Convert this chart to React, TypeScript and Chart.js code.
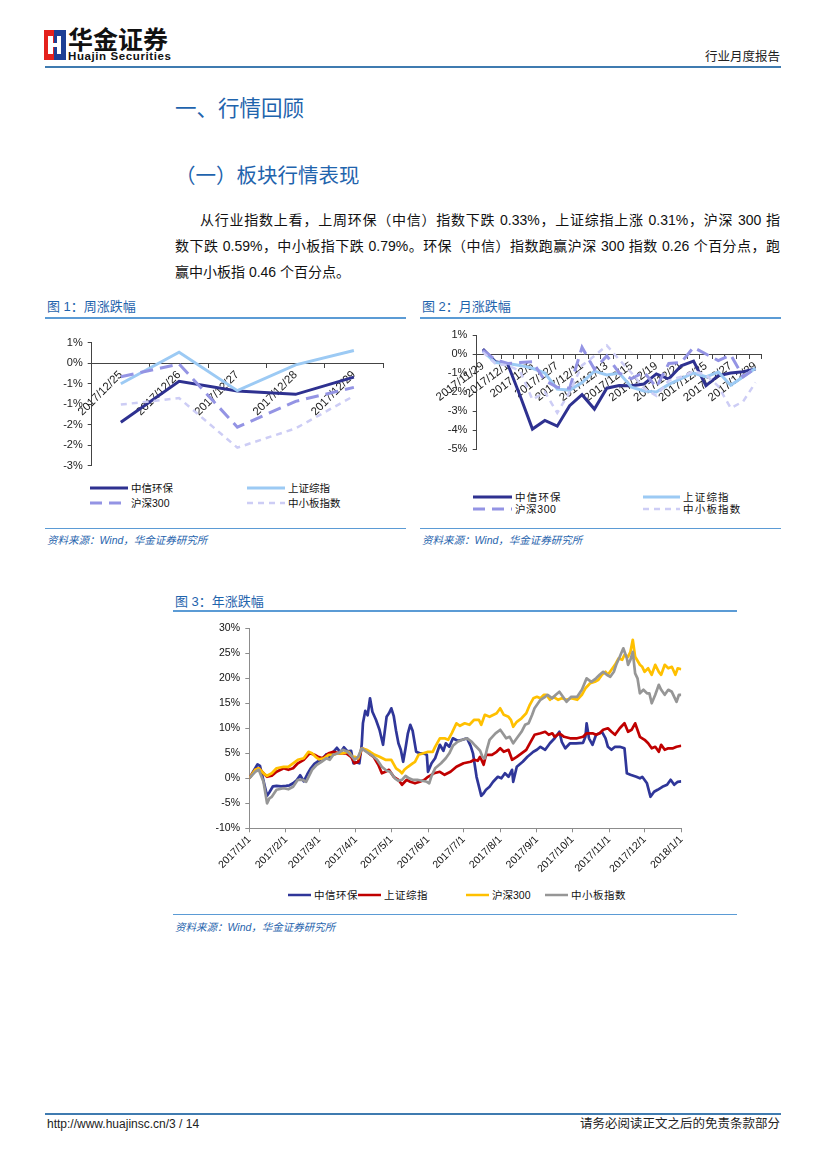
import React, { useEffect, useRef } from "react";
import { Chart, registerables } from "chart.js";

Chart.register(...registerables);

const LAT = '"Liberation Sans", Arial, "Noto Sans CJK SC", sans-serif';
const FONT = '"Liberation Sans", "Noto Sans CJK SC", sans-serif';
const BLUE_TXT = "#1f64ad";
const BLUE_LINE = "#5b9bd5";

// ---------- Figure 1: weekly ----------
const weekDates = ["2017/12/25", "2017/12/26", "2017/12/27", "2017/12/28", "2017/12/29"];
const weekHuanbao = [-1.44, -0.44, -0.68, -0.76, -0.34];
const weekShangzheng = [-0.5, 0.27, -0.67, -0.04, 0.31];
const weekHs300 = [-0.33, -0.02, -1.56, -0.93, -0.59];
const weekZxb = [-1.01, -0.85, -2.06, -1.59, -0.8];

// ---------- Figure 2: monthly ----------
const monthDates = [
  "2017/11/29", "2017/11/30", "2017/12/1", "2017/12/4", "2017/12/5", "2017/12/6", "2017/12/7", "2017/12/8",
  "2017/12/11", "2017/12/12", "2017/12/13", "2017/12/14", "2017/12/15", "2017/12/18", "2017/12/19", "2017/12/20",
  "2017/12/21", "2017/12/22", "2017/12/25", "2017/12/26", "2017/12/27", "2017/12/28", "2017/12/29",
];
const monthHuanbao = [0.26, -0.4, -0.53, -2.2, -3.95, -3.5, -3.8, -2.72, -2.14, -2.9, -1.8, -1.66, -1.67, -1.58, -1.05, -1.32, -0.62, -0.37, -1.67, -1.14, -1.0, -0.93, -0.79];
const monthShangzheng = [0.15, -0.45, -0.5, -0.6, -0.75, -1.0, -1.85, -1.9, -1.5, -0.9, -1.1, -1.0, -1.75, -1.95, -2.0, -1.6, -1.3, -1.0, -1.2, -0.95, -1.65, -1.2, -0.75];
const monthHs300 = [0.2, -0.3, -0.5, -0.45, -0.4, -1.4, -1.75, -1.8, 0.35, -0.8, -0.1, -1.0, -1.3, -0.95, -1.75, -0.5, -0.45, 0.35, 0.0, -0.35, -0.05, -1.2, -0.75];
const monthZxb = [0.1, -0.5, -0.6, -0.9, -2.4, -2.0, -3.1, -2.0, -0.6, -0.1, 0.45, -0.3, -1.0, -1.8, -2.2, -1.4, -1.2, -0.9, -1.1, -1.7, -2.85, -2.5, -1.5];

// ---------- Figure 3: yearly (x = day of 2017) ----------
const yearTickDays = [0, 31, 59, 90, 120, 151, 181, 212, 243, 273, 304, 334, 365];
const yearTickLabels = [
  "2017/1/1", "2017/2/1", "2017/3/1", "2017/4/1", "2017/5/1", "2017/6/1", "2017/7/1",
  "2017/8/1", "2017/9/1", "2017/10/1", "2017/11/1", "2017/12/1", "2018/1/1",
];

const huanbaoDays = [0, 3, 7, 9, 12, 15, 17, 20, 23, 27, 31, 34, 37, 40, 43, 46, 49, 52, 55, 58, 62, 65, 68, 71, 74, 77, 80, 83, 86, 88, 90, 93, 95, 96, 98, 100, 102, 104, 107, 110, 113, 116, 118, 120, 122, 124, 126, 128, 130, 132, 134, 136, 138, 141, 144, 147, 150, 151, 154, 157, 161, 164, 166, 169, 172, 176, 180, 184, 187, 189, 192, 196, 198, 200, 203, 206, 210, 213, 216, 219, 222, 223, 226, 231, 235, 240, 243, 246, 250, 254, 258, 262, 264, 267, 271, 276, 282, 284, 285, 287, 290, 293, 296, 298, 301, 303, 306, 309, 313, 317, 319, 322, 327, 330, 332, 336, 339, 342, 345, 349, 353, 356, 359, 362, 365];
const huanbaoPct = [0, 1.2, 2.8, 2.5, -0.5, -3.5, -2.8, -1.6, -1.5, -1.6, -1.5, -1.4, -1.0, -0.4, 0.6, -0.6, 0.8, 2.0, 2.9, 3.4, 4.0, 4.8, 4.2, 5.3, 6.1, 5.2, 6.2, 5.4, 5.5, 3.0, 3.2, 3.0, 6.8, 11.0, 13.5, 12.6, 16.0, 13.3, 11.7, 9.7, 6.7, 12.3, 13.0, 14.0, 12.5, 9.5, 7.0, 5.7, 3.3, 6.0, 9.0, 10.7, 9.5, 5.3, 5.0, 5.0, 4.7, 1.3, 3.0, 4.0, 6.7, 5.5, 7.0, 6.3, 8.0, 7.5, 7.7, 8.0, 6.5, 5.0, 0.3, -3.5, -3.0, -2.3, -1.7, -0.7, 0.3, 0.0, 1.0, 0.3, 1.7, -0.7, 2.3, 3.3, 4.3, 5.3, 5.7, 6.3, 5.7, 7.0, 8.0, 9.3, 7.3, 6.0, 7.0, 7.0, 7.1, 8.3, 11.0, 8.0, 6.7, 8.7, 9.0, 9.3, 8.0, 6.3, 5.7, 6.3, 6.3, 6.0, 1.0, 0.7, 0.3, 0.0, 0.3, -1.0, -3.7, -2.7, -2.3, -1.7, -1.3, -0.3, -1.3, -0.7, -0.6];

const shangzhengDays = [0, 5, 8, 12, 15, 19, 23, 29, 33, 37, 41, 46, 51, 55, 58, 62, 67, 71, 76, 82, 86, 89, 92, 95, 98, 101, 105, 109, 112, 115, 118, 122, 126, 129, 133, 136, 140, 144, 148, 151, 156, 161, 165, 170, 175, 181, 187, 190, 193, 195, 198, 200, 205, 209, 212, 215, 219, 222, 226, 230, 234, 237, 241, 246, 250, 253, 256, 258, 262, 266, 271, 277, 282, 285, 290, 293, 296, 299, 303, 306, 309, 313, 317, 320, 323, 326, 330, 334, 337, 340, 343, 346, 348, 351, 354, 358, 361, 365];
const shangzhengPct = [0, 1.7, 2.0, 1.0, 0.3, 0.5, 1.3, 2.0, 1.7, 2.0, 3.0, 3.7, 5.0, 4.7, 4.3, 4.0, 5.0, 5.3, 5.0, 5.0, 4.3, 3.0, 3.3, 6.0, 5.7, 5.0, 4.3, 2.7, 1.0, 1.3, 1.7, 0.3, -0.3, -1.3, -0.3, -0.7, -1.0, -0.7, -0.3, 0.3, 1.0, 1.3, 0.7, 1.3, 2.3, 3.0, 3.3, 3.7, 3.5, 4.3, 2.7, 4.7, 4.7, 5.3, 6.0, 5.3, 5.7, 3.7, 4.3, 5.0, 5.7, 7.0, 8.7, 9.0, 9.3, 8.7, 9.0, 8.3, 9.0, 8.3, 8.0, 8.0, 8.3, 9.0, 9.0, 8.7, 9.0, 9.7, 10.0, 9.3, 8.7, 10.0, 11.0, 9.3, 9.7, 11.0, 8.3, 7.7, 7.0, 6.0, 6.3, 5.3, 6.7, 5.7, 6.0, 6.0, 6.3, 6.5];

const hs300Days = [0, 5, 8, 12, 15, 19, 23, 29, 33, 37, 41, 46, 50, 53, 56, 59, 63, 67, 71, 75, 79, 84, 87, 89, 92, 95, 99, 102, 106, 110, 115, 120, 124, 127, 129, 131, 134, 138, 140, 143, 147, 151, 155, 157, 161, 165, 168, 171, 175, 178, 182, 186, 190, 194, 196, 199, 203, 209, 212, 215, 219, 221, 223, 226, 230, 234, 237, 240, 243, 246, 249, 251, 254, 257, 261, 264, 268, 272, 277, 281, 284, 288, 292, 295, 298, 301, 303, 306, 309, 312, 315, 317, 320, 322, 324, 326, 330, 332, 334, 337, 340, 343, 346, 348, 351, 354, 357, 360, 362, 365];
const hs300Pct = [0, 1.7, 2.0, 1.0, 0.5, 1.0, 2.0, 2.3, 2.3, 3.0, 3.7, 4.0, 5.3, 5.0, 4.3, 3.8, 4.0, 4.7, 4.7, 5.0, 5.0, 5.3, 4.3, 4.3, 4.0, 6.0, 5.7, 5.3, 4.7, 4.3, 3.7, 3.7, 2.0, 1.5, 1.0, 1.7, 2.3, 3.0, 3.3, 4.7, 5.0, 5.3, 5.3, 6.3, 8.0, 8.0, 7.7, 9.0, 11.0, 10.5, 11.0, 10.7, 11.7, 11.7, 10.7, 12.7, 12.3, 13.0, 14.0, 12.7, 12.3, 11.7, 10.3, 11.3, 12.0, 13.0, 14.7, 16.0, 16.3, 16.0, 16.7, 16.7, 15.7, 16.3, 15.7, 16.0, 15.7, 16.0, 15.7, 16.7, 18.0, 19.0, 19.3, 19.7, 20.7, 21.3, 20.7, 21.7, 22.7, 24.0, 23.7, 24.7, 24.3, 25.3, 27.7, 24.3, 22.7, 22.3, 21.3, 22.0, 20.7, 22.7, 21.3, 20.7, 22.7, 22.0, 22.3, 20.7, 22.0, 21.8];

const zxbDays = [0, 5, 8, 12, 15, 17, 19, 23, 29, 33, 37, 41, 45, 48, 53, 57, 61, 65, 68, 71, 75, 79, 83, 87, 89, 92, 95, 99, 103, 108, 112, 116, 119, 123, 126, 129, 132, 135, 138, 142, 146, 150, 152, 154, 157, 162, 166, 169, 172, 176, 180, 184, 188, 191, 195, 197, 199, 201, 203, 208, 212, 215, 217, 220, 223, 226, 230, 233, 236, 239, 241, 246, 250, 252, 256, 259, 262, 265, 268, 272, 277, 281, 285, 289, 293, 296, 299, 302, 305, 308, 310, 313, 316, 319, 320, 322, 324, 326, 328, 330, 333, 336, 338, 340, 343, 346, 348, 351, 354, 357, 361, 363, 365];
const zxbPct = [0, 1.3, 1.7, -0.7, -5.0, -4.0, -3.7, -2.3, -2.0, -2.2, -1.7, -0.3, -0.3, -0.7, 1.7, 2.7, 3.3, 4.0, 3.7, 4.7, 5.0, 5.7, 5.3, 4.3, 3.7, 4.3, 6.0, 5.3, 4.7, 3.7, 2.3, 1.5, 1.3, 0.0, -0.5, -0.3, 0.5, 0.0, -0.3, -0.3, -0.5, -0.7, -1.0, 0.5, 2.0, 3.0, 4.0, 5.0, 6.5, 7.3, 7.7, 8.0, 7.3, 6.5, 5.5, 4.3, 4.0, 6.0, 7.7, 9.0, 9.7, 8.7, 8.0, 8.3, 7.0, 8.0, 9.3, 10.7, 11.0, 12.7, 14.0, 15.7, 16.3, 16.7, 16.0, 16.7, 17.3, 16.3, 15.3, 16.3, 16.3, 17.7, 20.0, 19.3, 20.0, 20.7, 21.3, 20.7, 20.3, 21.3, 22.7, 24.3, 26.0, 24.0, 22.7, 23.7, 25.3, 21.0, 20.0, 17.0, 17.7, 17.0, 17.0, 15.0, 16.7, 18.7, 17.7, 16.7, 17.7, 17.3, 15.3, 16.7, 16.7];

// ---------- styling ----------
const NAVY = "#2e3190";
const SKY = "#9ccaf4";
const LAV = "#9494e4";
const LAV2 = "#cdcdf5";

const pctRound = (v: number) => {
  const r = Math.sign(v) * Math.round(Math.abs(v) + 1e-9);
  return (r === 0 ? 0 : r) + "%";
};

function smallChartConfig(opts: any) {
  const { labels, series, yMin, yMax, step, yWidth, padding, rotation, labelFn, yPad, xFont } = opts;
  return {
    type: "line",
    data: {
      labels,
      datasets: series.map((s: any, i: number) => ({
        label: s.label,
        data: s.data,
        borderColor: s.color,
        borderWidth: s.width,
        borderDash: s.dash,
        pointRadius: 0,
        tension: 0,
        fill: false,
        order: series.length - i,
      })),
    },
    options: {
      responsive: false,
      animation: false,
      layout: { padding },
      plugins: { legend: { display: false }, tooltip: { enabled: false } },
      scales: {
        x: {
          type: "category",
          position: { y: 0 },
          offset: true,
          grid: { offset: true, drawOnChartArea: false, drawTicks: true, tickLength: 4, color: "#444" },
          border: { color: "#444", width: 1 },
          ticks: {
            autoSkip: false,
            minRotation: rotation,
            maxRotation: rotation,
            padding: 1,
            color: "#1a1a1a",
            font: { family: LAT, size: xFont },
            callback: labelFn,
          },
        },
        y: {
          min: yMin,
          max: yMax,
          afterFit: (s: any) => {
            s.width = yWidth;
          },
          grid: { drawOnChartArea: false, drawTicks: true, tickLength: 4, color: "#444" },
          border: { color: "#444", width: 1 },
          ticks: { stepSize: step, padding: yPad, color: "#222", font: { family: LAT, size: 11 }, callback: pctRound },
        },
      },
    },
  };
}

const weekConfig = () =>
  smallChartConfig({
    labels: weekDates,
    series: [
      { label: "中信环保", data: weekHuanbao, color: NAVY, width: 3, dash: [] },
      { label: "上证综指", data: weekShangzheng, color: SKY, width: 3, dash: [] },
      { label: "沪深300", data: weekHs300, color: LAV, width: 3, dash: [13, 7] },
      { label: "中小板指数", data: weekZxb, color: LAV2, width: 2.5, dash: [6, 5] },
    ],
    yMin: -2.5,
    yMax: 0.5,
    step: 0.5,
    yWidth: 51.7,
    padding: { left: 0, top: 12.7, right: 17, bottom: 14.3 },
    rotation: 45,
    yPad: 5,
    xFont: 11.5,
    labelFn: (_v: any, i: number) => weekDates[i],
  });

const monthConfig = () =>
  smallChartConfig({
    labels: monthDates,
    series: [
      { label: "中信环保", data: monthHuanbao, color: NAVY, width: 3, dash: [] },
      { label: "上证综指", data: monthShangzheng, color: SKY, width: 3, dash: [] },
      { label: "沪深300", data: monthHs300, color: LAV, width: 3, dash: [13, 7] },
      { label: "中小板指数", data: monthZxb, color: LAV2, width: 2.5, dash: [6, 5] },
    ],
    yMin: -5,
    yMax: 1,
    step: 1,
    yWidth: 61.7,
    padding: { left: 0, top: 15, right: 13.3, bottom: 16 },
    rotation: 37,
    yPad: 5.4,
    xFont: 11.5,
    labelFn: (_v: any, i: number) => (i % 2 === 0 ? monthDates[i] : ""),
  });

const toPts = (days: number[], vals: number[]) => days.map((d, i) => ({ x: d, y: vals[i] }));

const yearConfig = () => {
  const series = [
    { label: "中信环保", data: toPts(huanbaoDays, huanbaoPct), color: "#2f3699" },
    { label: "上证综指", data: toPts(shangzhengDays, shangzhengPct), color: "#c00000" },
    { label: "沪深300", data: toPts(hs300Days, hs300Pct), color: "#ffc000" },
    { label: "中小板指数", data: toPts(zxbDays, zxbPct), color: "#969696" },
  ];
  return {
    type: "line",
    data: {
      datasets: series.map((s, i) => ({
        label: s.label,
        data: s.data,
        borderColor: s.color,
        borderWidth: 2.7,
        borderJoinStyle: "round",
        pointRadius: 0,
        tension: 0,
        fill: false,
        order: series.length - i,
      })),
    },
    options: {
      responsive: false,
      animation: false,
      layout: { padding: { left: 0, top: 13.3, right: 10.7, bottom: 0 } },
      plugins: { legend: { display: false }, tooltip: { enabled: false } },
      scales: {
        x: {
          type: "linear",
          min: 0,
          max: 365,
          afterBuildTicks: (s: any) => {
            s.ticks = yearTickDays.map((v) => ({ value: v }));
          },
          afterFit: (s: any) => {
            s.height = 51.7;
          },
          grid: { drawOnChartArea: false, drawTicks: true, tickLength: 4, color: "#8c8c8c" },
          border: { color: "#8c8c8c", width: 1 },
          ticks: {
            autoSkip: false,
            minRotation: 45,
            maxRotation: 45,
            padding: 1,
            color: "#111",
            font: { family: LAT, size: 10.5 },
            callback: (_v: any, i: number) => yearTickLabels[i],
          },
        },
        y: {
          min: -10,
          max: 30,
          afterFit: (s: any) => {
            s.width = 79.3;
          },
          grid: { drawOnChartArea: false, drawTicks: true, tickLength: 4, color: "#8c8c8c" },
          border: { color: "#8c8c8c", width: 1 },
          ticks: { stepSize: 5, padding: 5.3, color: "#111", font: { family: LAT, size: 10.5 }, callback: (v: number) => v + "%" },
        },
      },
    },
  };
};

function ChartBox({ left, top, width, height, build }: any) {
  const ref = useRef<HTMLCanvasElement>(null);
  useEffect(() => {
    const chart = new Chart(ref.current as HTMLCanvasElement, build());
    return () => chart.destroy();
  }, []);
  return <canvas ref={ref} width={width} height={height} style={{ position: "absolute", left, top, width, height }} />;
}

function Txt({ x, y, size, color = "#111", children, right, bold, italic, width, spacing, family }: any) {
  const style: any = {
    position: "absolute",
    top: y - size * 0.6,
    fontSize: size,
    lineHeight: `${size * 1.2}px`,
    color,
    fontWeight: bold ? 700 : 400,
    fontStyle: italic ? "italic" : "normal",
    letterSpacing: spacing,
    fontFamily: family || FONT,
  };
  if (right !== undefined) {
    style.right = 827 - right;
    style.whiteSpace = "nowrap";
  } else style.left = x;
  if (width) {
    style.width = width;
    style.textAlign = "justify";
    style.textAlignLast = "justify";
  } else style.whiteSpace = "nowrap";
  return <div style={style}>{children}</div>;
}

function HLine({ x1, x2, y, color, h = 1 }: any) {
  return <div style={{ position: "absolute", left: x1, top: y - h / 2, width: x2 - x1, height: h, background: color }} />;
}

function LegendItem({ x, y, lineW, color, width, dash, label, size = 10.5, spacing = 0 }: any) {
  return (
    <div style={{ position: "absolute", left: x, top: y - 8, height: 16, display: "flex", alignItems: "center", whiteSpace: "nowrap" }}>
      <svg width={lineW} height={8} style={{ display: "block" }}>
        <line x1={0} y1={4} x2={lineW} y2={4} stroke={color} strokeWidth={width} strokeDasharray={dash} />
      </svg>
      <span style={{ marginLeft: 3, fontSize: size, color: "#111", letterSpacing: spacing, fontFamily: FONT, lineHeight: "16px" }}>{label}</span>
    </div>
  );
}

export default function App() {
  return (
    <div style={{ position: "absolute", left: 0, top: 0, width: 827, height: 1169, background: "#fff", overflow: "hidden", fontFamily: FONT }}>
      {/* header */}
      <svg width={22} height={30} style={{ position: "absolute", left: 44, top: 30 }}>
        <rect x={0} y={0} width={10} height={30} fill="#e4211c" />
        <rect x={10} y={0} width={12} height={30} fill="#1d3f95" />
        <polygon points="4,6 9,6 9,13 13,13 13,6 17,6 17,24 13,24 13,17 9,17 9,24 4,24" fill="#fff" />
      </svg>
      <Txt x={68} y={40} size={25} bold color="#111">华金证券</Txt>
      <Txt x={68} y={56.5} size={11.5} bold color="#111" family={'"Liberation Sans Narrow", "Liberation Sans", sans-serif'} spacing={0.6}>Huajin Securities</Txt>
      <Txt right={780} y={57} size={12.5} color="#222">行业月度报告</Txt>
      <HLine x1={45} x2={781} y={67} color="#3f7bb0" h={2} />

      {/* headings */}
      <Txt x={175} y={110} size={21.5} color={BLUE_TXT}>一、行情回顾</Txt>
      <Txt x={175} y={176} size={20.5} color={BLUE_TXT}>（一）板块行情表现</Txt>

      {/* paragraph */}
      <Txt x={200} y={220} size={14} width={580} color="#111">从行业指数上看，上周环保（中信）指数下跌 0.33%，上证综指上涨 0.31%，沪深 300 指</Txt>
      <Txt x={175} y={246} size={14} width={605} color="#111">数下跌 0.59%，中小板指下跌 0.79%。环保（中信）指数跑赢沪深 300 指数 0.26 个百分点，跑</Txt>
      <Txt x={175} y={272} size={14} color="#111">赢中小板指 0.46 个百分点。</Txt>

      {/* figure 1 */}
      <Txt x={47} y={307} size={13} color={BLUE_TXT}>图 1：周涨跌幅</Txt>
      <HLine x1={45} x2={406} y={318} color={BLUE_LINE} h={1.5} />
      <ChartBox left={40} top={330} width={360} height={150} build={weekConfig} />
      <LegendItem x={90} y={487.7} lineW={38} color={NAVY} width={3} label="中信环保" />
      <LegendItem x={247} y={487.7} lineW={38} color={SKY} width={3} label="上证综指" />
      <LegendItem x={90} y={503.3} lineW={38} color={LAV} width={3} dash="12 7" label="沪深300" />
      <LegendItem x={247} y={503.3} lineW={38} color={LAV2} width={2.5} dash="6 5" label="中小板指数" />
      <HLine x1={45} x2={406} y={528} color={BLUE_LINE} h={1} />
      <Txt x={47} y={540} size={10.5} italic color={BLUE_TXT}>资料来源：Wind，华金证券研究所</Txt>

      {/* figure 2 */}
      <Txt x={422} y={307} size={13} color={BLUE_TXT}>图 2：月涨跌幅</Txt>
      <HLine x1={420} x2={781} y={318} color={BLUE_LINE} h={1.5} />
      <ChartBox left={415} top={320} width={360} height={145} build={monthConfig} />
      <LegendItem x={473} y={497.3} lineW={39} color={NAVY} width={3} label="中信环保" spacing={1.2} />
      <LegendItem x={643} y={497.3} lineW={37} color={SKY} width={3} label="上证综指" spacing={1.2} />
      <LegendItem x={473} y={509} lineW={39} color={LAV} width={3} dash="12 7" label="沪深300" spacing={0.6} />
      <LegendItem x={643} y={509} lineW={37} color={LAV2} width={2.5} dash="6 5" label="中小板指数" spacing={1.2} />
      <HLine x1={420} x2={781} y={528} color={BLUE_LINE} h={1} />
      <Txt x={422} y={540} size={10.5} italic color={BLUE_TXT}>资料来源：Wind，华金证券研究所</Txt>

      {/* figure 3 */}
      <Txt x={175} y={602} size={13} color={BLUE_TXT}>图 3：年涨跌幅</Txt>
      <HLine x1={173} x2={737} y={611} color={BLUE_LINE} h={1.5} />
      <ChartBox left={170} top={615} width={522} height={265} build={yearConfig} />
      <LegendItem x={288} y={895} lineW={23} color="#2f3699" width={2.5} label="中信环保" spacing={0.5} />
      <LegendItem x={358} y={895} lineW={23} color="#c00000" width={2.5} label="上证综指" spacing={0.5} />
      <LegendItem x={466} y={895} lineW={23} color="#ffc000" width={2.5} label="沪深300" />
      <LegendItem x={545} y={895} lineW={23} color="#969696" width={2.5} label="中小板指数" spacing={0.5} />
      <HLine x1={173} x2={737} y={914} color={BLUE_LINE} h={1} />
      <Txt x={175} y={927} size={10.5} italic color={BLUE_TXT}>资料来源：Wind，华金证券研究所</Txt>

      {/* footer */}
      <HLine x1={45} x2={781} y={1114} color="#3f7bb0" h={1.5} />
      <Txt x={47} y={1124} size={12} color="#222">http://www.huajinsc.cn/3 / 14</Txt>
      <Txt right={780} y={1124} size={12.5} color="#222">请务必阅读正文之后的免责条款部分</Txt>
    </div>
  );
}
